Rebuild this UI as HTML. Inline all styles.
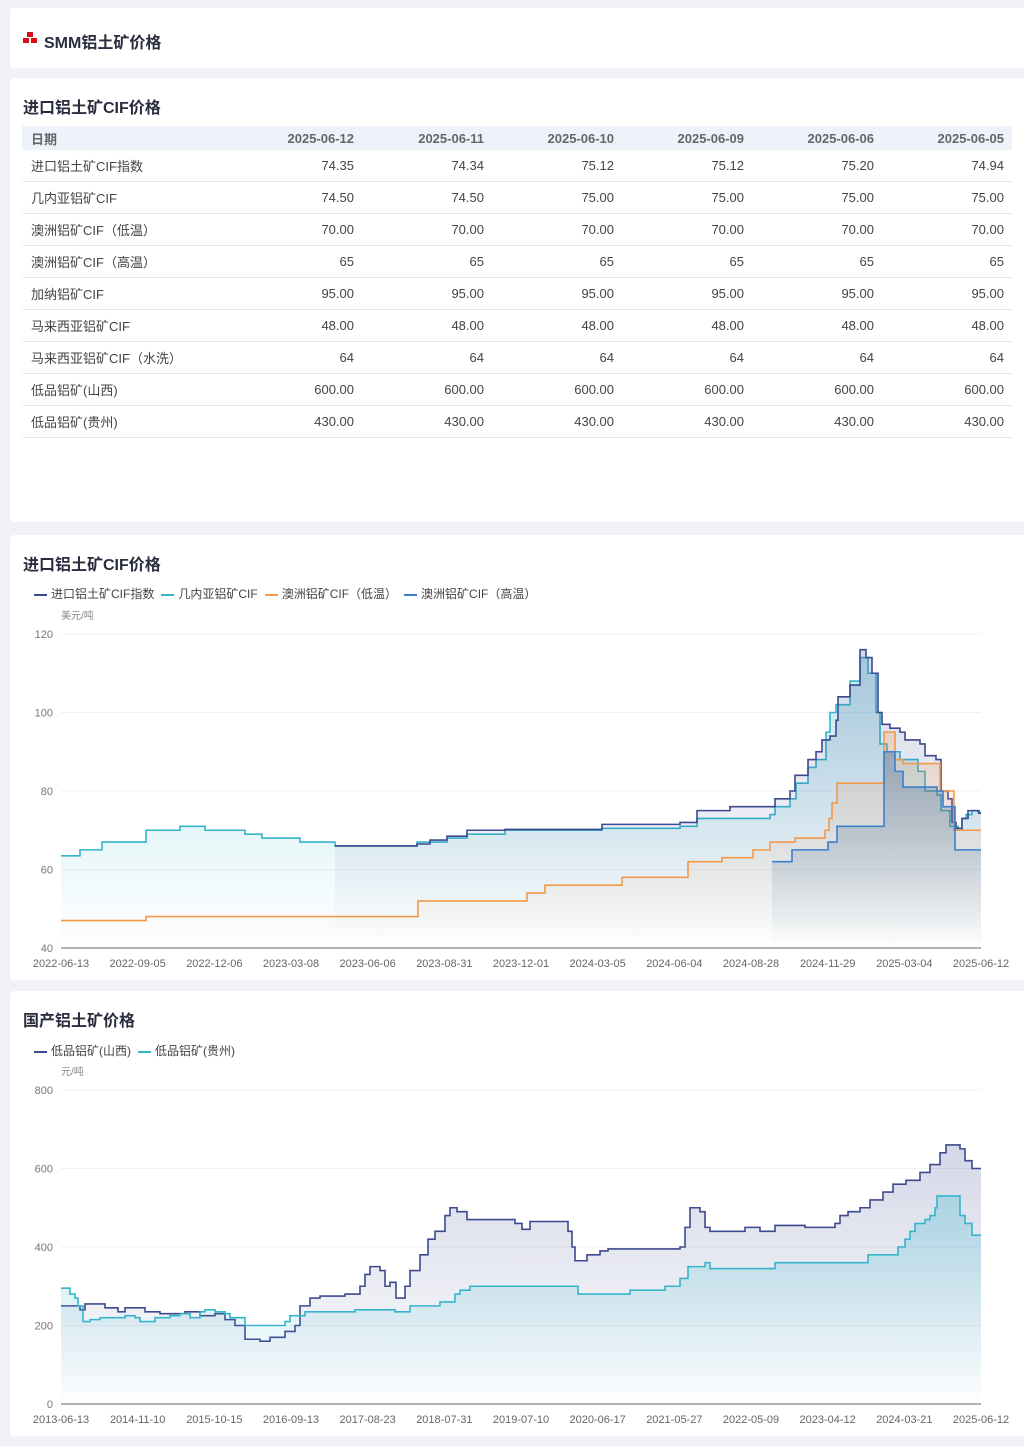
<!DOCTYPE html>
<html><head><meta charset="utf-8">
<style>
body{margin:0;background:#f0f2f8;width:1024px;height:1446px;overflow:hidden;font-family:"Liberation Sans","Noto Sans CJK SC",sans-serif;color:#333}
.card{position:absolute;left:10px;width:1030px;background:#fff;border-radius:4px}
.t{position:absolute;left:13px;font-weight:bold;font-size:16px;color:#2a2d3e}
table{position:absolute;left:12px;top:48px;width:990px;border-collapse:collapse;font-size:13px;table-layout:fixed}
th{background:#eef2fa;color:#666;font-weight:bold;height:24px;text-align:right;padding:0 8px}
th:first-child,td:first-child{text-align:left;padding-left:9px}
td{height:31px;border-bottom:1px solid #e8e8e8;text-align:right;padding:0 8px;color:#444}
.lg{position:absolute;font-size:12px;color:#444;white-space:nowrap}
.lg i{display:inline-block;width:13px;height:2px;vertical-align:middle;margin:0 4px 0 0}
.lg span{margin-right:7px}
svg{position:absolute;left:0;top:0}
.ic{position:absolute;width:6px;height:5px;background:#d8101a}
</style></head><body>
<div class="card" style="top:8px;height:60px">
<div class="ic" style="left:17px;top:24px"></div><div class="ic" style="left:13px;top:30px"></div><div class="ic" style="left:21px;top:30px"></div>
<div class="t" style="top:21px;left:34px">SMM铝土矿价格</div></div>
<div class="card" style="top:78px;height:444px">
<div class="t" style="top:16px">进口铝土矿CIF价格</div>
<table>
<colgroup><col style="width:210px"><col><col><col><col><col><col></colgroup>
<tr><th>日期</th><th>2025-06-12</th><th>2025-06-11</th><th>2025-06-10</th><th>2025-06-09</th><th>2025-06-06</th><th>2025-06-05</th></tr>
<tr><td>进口铝土矿CIF指数</td><td>74.35</td><td>74.34</td><td>75.12</td><td>75.12</td><td>75.20</td><td>74.94</td></tr>
<tr><td>几内亚铝矿CIF</td><td>74.50</td><td>74.50</td><td>75.00</td><td>75.00</td><td>75.00</td><td>75.00</td></tr>
<tr><td>澳洲铝矿CIF（低温）</td><td>70.00</td><td>70.00</td><td>70.00</td><td>70.00</td><td>70.00</td><td>70.00</td></tr>
<tr><td>澳洲铝矿CIF（高温）</td><td>65</td><td>65</td><td>65</td><td>65</td><td>65</td><td>65</td></tr>
<tr><td>加纳铝矿CIF</td><td>95.00</td><td>95.00</td><td>95.00</td><td>95.00</td><td>95.00</td><td>95.00</td></tr>
<tr><td>马来西亚铝矿CIF</td><td>48.00</td><td>48.00</td><td>48.00</td><td>48.00</td><td>48.00</td><td>48.00</td></tr>
<tr><td>马来西亚铝矿CIF（水洗）</td><td>64</td><td>64</td><td>64</td><td>64</td><td>64</td><td>64</td></tr>
<tr><td>低品铝矿(山西)</td><td>600.00</td><td>600.00</td><td>600.00</td><td>600.00</td><td>600.00</td><td>600.00</td></tr>
<tr><td>低品铝矿(贵州)</td><td>430.00</td><td>430.00</td><td>430.00</td><td>430.00</td><td>430.00</td><td>430.00</td></tr>
</table></div>
<div class="card" style="top:535px;height:445px"><div class="t" style="top:16px">进口铝土矿CIF价格</div>
<div class="lg" style="left:24px;top:50px"><span><i style="background:#3d4a8f"></i>进口铝土矿CIF指数</span><span><i style="background:#35b5cc"></i>几内亚铝矿CIF</span><span><i style="background:#f2994a"></i>澳洲铝矿CIF（低温）</span><span><i style="background:#3a7fd0"></i>澳洲铝矿CIF（高温）</span></div></div>
<div class="card" style="top:991px;height:445px"><div class="t" style="top:16px">国产铝土矿价格</div>
<div class="lg" style="left:24px;top:51px"><span><i style="background:#3d4a8f"></i>低品铝矿(山西)</span><span><i style="background:#35b5cc"></i>低品铝矿(贵州)</span></div></div>
<svg id="s" width="1024" height="1446" font-family="Liberation Sans, Noto Sans CJK SC, sans-serif" font-size="11" fill="#666"></svg>
<script>
var s=document.getElementById('s'),h='';
h+='<defs><linearGradient id="gn" x1="0" y1="0" x2="0" y2="1"><stop offset="0" stop-color="#3d4a8f" stop-opacity=".22"/><stop offset="1" stop-color="#3d4a8f" stop-opacity="0"/></linearGradient><linearGradient id="gc" x1="0" y1="0" x2="0" y2="1"><stop offset="0" stop-color="#35b5cc" stop-opacity=".3"/><stop offset="1" stop-color="#35b5cc" stop-opacity="0"/></linearGradient><linearGradient id="go" x1="0" y1="0" x2="0" y2="1"><stop offset="0" stop-color="#f2994a" stop-opacity=".22"/><stop offset="1" stop-color="#f2994a" stop-opacity="0"/></linearGradient><linearGradient id="gb" x1="0" y1="0" x2="0" y2="1"><stop offset="0" stop-color="#3a5f90" stop-opacity=".35"/><stop offset="1" stop-color="#3a5f90" stop-opacity="0"/></linearGradient></defs>';
function chart(top,bot,vmin,vmax,ticks,unit,labels,series){
 var k=(bot-top)/(vmax-vmin);function Y(v){return bot-(v-vmin)*k}
 ticks.forEach(function(t){h+='<line x1="61" x2="981" y1="'+Y(t)+'" y2="'+Y(t)+'" stroke="#eef0f6"/><text x="53" y="'+(Y(t)+4)+'" text-anchor="end" fill="#777">'+t+'</text>'});
 h+='<text x="61" y="'+(top-15)+'" font-size="10" fill="#888">'+unit+'</text>';
 labels.forEach(function(l,i){var x=61+i*(920/(labels.length-1));h+='<text x="'+x+'" y="'+(bot+19)+'" text-anchor="middle" fill="#666">'+l+'</text>'});
 series.forEach(function(se){var d=se.p,p='M'+d[0][0]+','+Y(d[0][1]);for(var i=1;i<d.length;i++){p+='H'+d[i][0]+'V'+Y(d[i][1])}
  p+='H981';
  h+='<path d="'+p+'V'+bot+'H'+d[0][0]+'Z" fill="url(#'+se.g+')"/>';
  h+='<path d="'+p+'" fill="none" stroke="'+se.c+'" stroke-width="1.6"/>';});
 h+='<line x1="61" x2="981" y1="'+bot+'" y2="'+bot+'" stroke="#666"/>';
}
var cy=[[61,63.5],[80,65],[102,67],[146,70],[180,71],[205,70],[245,69],[262,68],[300,67],[335,66],[417,67],[447,68],[467,69],[505,70],[602,70.5],[680,71],[697,73],[770,74],[775,76],[790,78],[796,82],[808,86],[816,88],[826,95],[830,100],[836,102],[850,108],[860,114],[868,110],[876,100],[880,92],[887,90],[900,88],[918,85],[925,80],[937,79],[941,75],[950,71],[958,70],[962,73],[966,74],[972,75],[978,74.5]];
var nv=[[335,66],[417,66.5],[430,67.5],[447,68.5],[467,70],[505,70.2],[602,71.5],[680,72],[697,75],[730,76],[775,78],[790,80],[795,84],[808,88],[816,90],[822,93],[830,94],[836,98],[838,104],[850,107],[860,116],[866,114],[872,110],[878,100],[882,97],[890,96],[900,95],[905,93],[920,92],[925,89],[936,88],[941,80],[948,78],[952,72],[956,70.5],[962,73],[968,75],[975,75],[979,74.35]];
var or=[[61,47],[146,48],[418,52],[527,54],[545,56],[622,58],[688,62],[722,63],[753,65],[770,67],[795,68],[825,70],[829,73],[832,77],[837,82],[884,95],[895,88],[903,87],[940,80],[954,70]];
var bl=[[772,62],[792,65],[828,67],[837,71],[884,90],[895,85],[903,81],[937,80],[943,76],[955,65]];
chart(634,948,40,120,[40,60,80,100,120],'美元/吨',['2022-06-13','2022-09-05','2022-12-06','2023-03-08','2023-06-06','2023-08-31','2023-12-01','2024-03-05','2024-06-04','2024-08-28','2024-11-29','2025-03-04','2025-06-12'],
[{p:cy,c:'#35b5cc',g:'gc'},{p:nv,c:'#3d4a8f',g:'gn'},{p:or,c:'#f2994a',g:'go'},{p:bl,c:'#3a7fd0',g:'gb'}]);
var sx=[[61,250],[80,240],[85,255],[105,245],[118,235],[125,245],[145,235],[160,230],[185,235],[200,225],[215,230],[225,215],[235,200],[245,165],[260,160],[270,170],[285,185],[295,200],[300,250],[310,270],[320,275],[345,280],[360,300],[365,330],[370,350],[380,340],[385,300],[390,310],[396,270],[405,300],[410,340],[420,380],[428,420],[435,440],[445,480],[450,500],[457,490],[467,470],[515,460],[522,445],[530,465],[568,440],[572,400],[575,365],[587,380],[600,390],[608,395],[680,400],[685,450],[690,500],[700,490],[705,450],[710,440],[745,450],[760,440],[775,455],[805,450],[835,460],[840,480],[848,490],[860,500],[870,520],[883,540],[893,560],[906,570],[920,590],[930,610],[940,640],[946,660],[960,650],[965,620],[972,600]];
var gz=[[61,295],[70,280],[75,270],[78,250],[83,210],[90,215],[100,220],[125,225],[135,220],[140,210],[155,220],[170,225],[180,230],[190,220],[200,235],[205,240],[215,235],[225,230],[230,220],[245,200],[285,210],[290,225],[305,235],[355,240],[395,235],[410,250],[440,260],[455,280],[460,290],[470,300],[578,280],[630,290],[665,300],[680,320],[688,350],[705,360],[710,345],[775,360],[868,380],[898,400],[905,420],[910,440],[915,460],[925,470],[930,480],[935,500],[937,530],[960,480],[965,460],[972,430]];
chart(1090,1404,0,800,[0,200,400,600,800],'元/吨',['2013-06-13','2014-11-10','2015-10-15','2016-09-13','2017-08-23','2018-07-31','2019-07-10','2020-06-17','2021-05-27','2022-05-09','2023-04-12','2024-03-21','2025-06-12'],
[{p:sx,c:'#3d4a8f',g:'gn'},{p:gz,c:'#35b5cc',g:'gc'}]);
s.innerHTML=h;
</script>
</body></html>
